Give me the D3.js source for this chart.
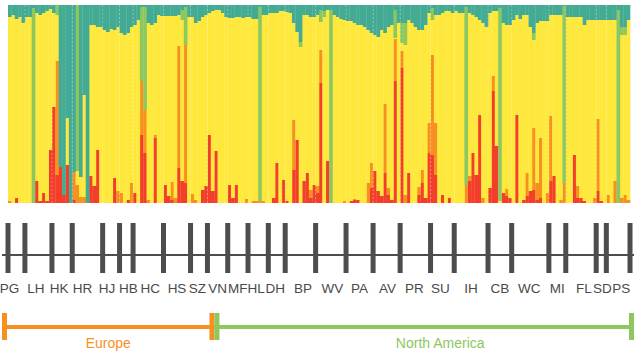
<!DOCTYPE html>
<html>
<head>
<meta charset="utf-8">
<script src="https://cdn.jsdelivr.net/npm/d3@7"></script>
<style>
  body { margin: 0; background: #fff; }
  svg { display: block; }
  text { font-family: "Liberation Sans", Arial, sans-serif; }
</style>
</head>
<body>
<svg id="chart" width="634" height="354"></svg>
<script>
// populations, in plot order, and number of individuals in each
const popNames = ['PG','LH','HK','HR','HJ','HB','HC','HS','SZ','VN','MF','HL','DH','BP',
  'WV','PA','AV','PR','SU','IH','CB','WC','MI','FL','SD','PS'];
const popSizes = [5, 8, 6, 9, 5, 4, 9, 8, 5, 6, 6, 6, 5, 9, 9, 8, 8, 9, 7, 10, 7, 11, 5, 9, 3, 7];

const regionNames = ['Europe', 'North America'];
const regionPopCounts = [9, 17];

// ancestry, per individual (each bar normalised to 1)
const red = [
  0,0,5,0,0,0,0,0,22,2, 10,2,53,96,28,36,8,38,0,3, 0,0,0,0,27,17,53,0,0,0,
  0,25,0,0,0,3,0,10,0,68, 50,0,0,65,0,0,18,7,3,0, 35,22,20,0,0,0,0,13,17,68,
  12,52,0,0,0,18,5,18,0,0, 0,0,0,0,0,0,0,0,5,40, 0,23,2,0,33,63,0,22,30,5,
  18,10,120,0,42,0,0,0,0,0, 0,2,3,3,0,0,0,15,32,12, 7,30,8,3,122,0,135,0,30,0,
  0,8,20,5,50,48,28,0,8,0, 5,0,0,0,0,0,22,50,28,88, 0,0,15,112,57,0,10,7,5,0,
  88,0,3,7,12,13,3,5,0,0, 22,27,0,0,0,0,0,48,5,5, 2,0,0,0,12,2,0,0,0,0,
  0,0,0,0
];
const orange = [
  2,0,0,0,0,0,0,0,0,0, 0,0,0,0,114,0,0,0,0,28, 18,6,6,0,0,0,0,0,0,0,
  0,0,12,10,0,0,20,0,0,54, 43,3,0,3,0,0,0,0,18,5, 122,0,138,0,9,3,0,0,0,0,
  0,0,0,0,0,0,0,0,0,0, 4,0,2,2,2,2,0,0,0,0, 0,0,0,0,50,0,0,0,0,8,
  0,7,33,0,0,0,0,0,0,2, 0,0,1,0,0,0,20,25,0,0, 0,69,7,0,42,0,17,8,0,0,
  0,8,13,0,30,100,52,0,0,0, 0,0,0,0,0,18,5,0,0,0, 5,0,0,15,0,0,0,7,0,0,
  0,0,0,23,0,62,17,60,0,10, 65,0,0,3,20,0,0,0,12,0, 0,0,0,5,72,0,0,8,0,22,
  0,5,8,3
];
const yellow = [
  184,188,179,186,180,186,186,0,168,186, 180,190,141,94,46,0,0,47,0,0,
  14,20,102,0,151,161,123,176,173,171, 174,148,164,160,168,167,156,168,183,0,
  0,177,178,112,188,187,169,180,166,182, 31,161,0,186,177,177,182,173,171,122,
  180,141,193,190,186,167,180,168,186,185, 182,186,182,182,0,186,188,190,185,150,
  192,169,189,190,97,108,156,166,158,173, 168,171,28,186,151,0,188,186,184,181,
  182,180,176,175,178,176,153,130,136,154, 166,71,161,175,1,180,8,150,153,180,
  176,157,140,173,110,35,108,188,182,192, 187,190,192,190,190,0,163,138,158,95,
  175,176,175,65,135,2,170,164,173,183, 100,184,185,158,164,88,160,117,182,172,
  101,161,188,185,0,186,186,138,169,181, 176,183,183,178,99,181,183,175,183,161,
  0,163,160,180
];
const green = [
  0,0,0,0,0,0,0,195,0,0, 0,0,0,0,10,0,0,0,0,0, 166,0,0,0,0,0,0,0,0,0,
  0,0,0,0,0,0,0,0,0,74, 103,0,0,0,0,0,0,0,0,0, 0,10,38,0,0,0,0,0,0,0,
  0,0,0,0,0,0,0,0,0,0, 0,0,0,0,194,0,0,0,0,0, 0,0,0,0,0,0,5,0,0,0,
  0,0,12,6,0,193,0,0,0,0, 0,0,0,0,0,0,0,0,0,0, 0,0,0,0,28,0,20,22,0,0,
  0,0,0,0,0,12,0,0,0,0, 0,0,0,0,0,178,0,0,0,0, 0,0,0,0,0,193,0,0,0,0,
  0,0,0,0,0,7,0,0,0,0, 0,0,0,0,177,0,0,0,0,0, 0,0,0,0,0,0,0,0,0,0,
  193,8,8,0
];
const teal = [
  12,10,14,12,18,12,12,3,8,10, 8,6,4,8,0,162,190,113,198,167,
  0,172,90,198,20,20,22,22,25,27, 24,25,22,28,30,28,22,20,15,2,
  2,18,20,18,10,11,11,11,11,11, 10,5,2,12,12,18,16,12,10,8,
  6,5,5,8,12,13,13,12,12,13, 12,12,14,14,2,10,10,8,8,8,
  6,6,7,8,18,27,37,10,10,12, 12,10,5,6,5,5,10,12,14,15,
  16,16,18,20,20,22,25,28,30,32, 25,28,22,20,5,18,18,18,15,18,
  22,25,25,20,8,3,10,10,8,6, 6,8,6,8,8,2,8,10,12,15,
  18,22,8,6,6,3,18,20,20,15, 10,14,10,10,22,28,18,16,16,16,
  10,10,10,10,1,12,12,12,12,12, 20,15,15,15,15,15,15,15,15,15,
  5,22,22,15
];

const keys = ['red', 'orange', 'yellow', 'green', 'teal'];
const colors = {
  red: '#f33f2a',
  orange: '#f7901f',
  yellow: '#fee83c',
  green: '#8dc75d',
  teal: '#43aa93'
};

const rows = red.map((_, i) => ({
  id: i, red: red[i], orange: orange[i], yellow: yellow[i], green: green[i], teal: teal[i]
}));

const margin = { left: 8, right: 4, top: 5 };
const width = 634, plotBottom = 203;

const svg = d3.select('#chart');

const x = d3.scaleBand()
  .domain(rows.map(d => d.id))
  .range([margin.left, width - margin.right]);

// boundary positions, in individuals
const xb = d3.scaleLinear()
  .domain([0, rows.length])
  .range([margin.left, width - margin.right]);

const y = d3.scaleLinear().domain([0, 1]).range([plotBottom, margin.top]);

const series = d3.stack().keys(keys).offset(d3.stackOffsetExpand)(rows);

// ---- BARS ----
svg.append('g')
  .selectAll('g')
  .data(series)
  .join('g')
  .attr('fill', d => colors[d.key])
  .selectAll('rect')
  .data(d => d)
  .join('rect')
  .attr('x', d => x(d.data.id))
  .attr('width', x.bandwidth() + 0.3)
  .attr('y', d => y(d[1]))
  .attr('height', d => Math.max(0, y(d[0]) - y(d[1])));

const bounds = [0, ...d3.cumsum(popSizes)];

// dashed population dividers inside the plot
svg.append('g')
  .selectAll('line')
  .data(bounds.slice(1, -1))
  .join('line')
  .attr('x1', d => xb(d)).attr('x2', d => xb(d))
  .attr('y1', margin.top).attr('y2', plotBottom)
  .attr('stroke', '#fff')
  .attr('stroke-opacity', 0.45)
  .attr('stroke-width', 0.7)
  .attr('stroke-dasharray', '2,2');

// ---- POPULATION AXIS ----
const axisY = 255;
const axis = svg.append('g');

axis.append('line')
  .attr('x1', 2).attr('x2', width)
  .attr('y1', axisY).attr('y2', axisY)
  .attr('stroke', '#4d4d4d')
  .attr('stroke-width', 2);

axis.selectAll('rect')
  .data(bounds)
  .join('rect')
  .attr('x', d => xb(d) - 2.5)
  .attr('width', 5)
  .attr('y', 223)
  .attr('height', 50)
  .attr('fill', '#4d4d4d');

// small horizontal nudges so crowded labels sit as in the original
const labelNudge = [-7, -2.5, -3, -5, -4, 2, 2, 0, -1.5, 0, 0, -2, -1.5, 2.5,
  1.5, 0, 1, -1, -2, 0, 0, -1, 0, 3, 1, 3];

axis.selectAll('text')
  .data(popNames)
  .join('text')
  .attr('x', (d, i) => xb((bounds[i] + bounds[i + 1]) / 2) + labelNudge[i])
  .attr('y', 293)
  .attr('text-anchor', 'middle')
  .attr('font-size', 13.5)
  .attr('fill', '#4a4a4a')
  .text(d => d);

// ---- REGION BRACKETS ----
const regionBounds = [0, ...d3.cumsum(regionPopCounts)].map(k => bounds[k]);
const regionColors = ['#f7901f', '#8dc75d'];
const bracketY = 327;
const splitShift = 7;

regionNames.forEach((name, i) => {
  const x0 = i === 0 ? xb(regionBounds[i]) - 6 : xb(regionBounds[i]) + splitShift;
  const x1 = i === 0 ? xb(regionBounds[i + 1]) + splitShift : xb(regionBounds[i + 1]) + 4;
  const g = svg.append('g').attr('fill', regionColors[i]);
  g.append('rect')
    .attr('x', x0).attr('width', x1 - x0)
    .attr('y', bracketY - 2).attr('height', 4);
  [x0, x1 - 5].forEach(cx => {
    g.append('rect')
      .attr('x', cx).attr('width', 5)
      .attr('y', 313).attr('height', 27);
  });
  g.append('text')
    .attr('x', (x0 + x1) / 2 + (i === 0 ? 0 : 16))
    .attr('y', 348)
    .attr('text-anchor', 'middle')
    .attr('font-size', 14)
    .text(name);
});
</script>
</body>
</html>
